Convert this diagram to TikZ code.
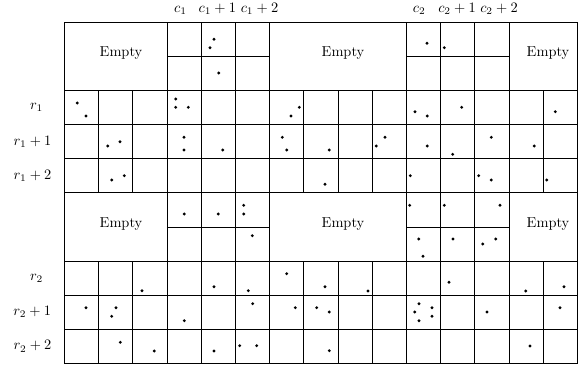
\documentclass[tikz,border=0pt]{standalone}
\begin{document}
\begin{tikzpicture}[x=0.6944pt,y=-0.6944pt,
  gridline/.style={line width=0.5pt,black},
  lab/.style={inner sep=0pt},
  emptylab/.style={inner sep=0pt,anchor=center},
  pt/.style={fill=black}]
\useasboundingbox (0,0) rectangle (587,369);
% outer frame
\draw[gridline] (64.3,22.3) rectangle (577.3,363.3);
% full horizontal lines
\foreach \r in {2,3,4,5,7,8,9}
  \draw[gridline] (64.3,{22.3+34.1*\r}) -- (577.3,{22.3+34.1*\r});
% partial horizontal lines inside the column groups
\foreach \r in {1,6}{
  \draw[gridline] (166.9,{22.3+34.1*\r}) -- (269.5,{22.3+34.1*\r});
  \draw[gridline] (406.3,{22.3+34.1*\r}) -- (508.9,{22.3+34.1*\r});
}
% vertical lines, full height in the column groups
\foreach \k in {3,4,5,6,10,11,12,13}
  \draw[gridline] ({64.3+34.2*\k},22.3) -- ({64.3+34.2*\k},363.3);
% vertical lines only in the full rows
\foreach \k in {1,2,7,8,9,14}{
  \draw[gridline] ({64.3+34.2*\k},90.5) -- ({64.3+34.2*\k},192.8);
  \draw[gridline] ({64.3+34.2*\k},261) -- ({64.3+34.2*\k},363.3);
}
% Empty labels
\node[emptylab] (e1) at (121,53.3) {Empty};
\node[emptylab] (e2) at (343,53.3) {Empty};
\node[emptylab] (e3) at (548,53.3) {Empty};
\node[emptylab] (e4) at (121,223.6) {Empty};
\node[emptylab] (e5) at (343,223.6) {Empty};
\node[emptylab] (e6) at (548,223.6) {Empty};
% column labels
\node[lab,anchor=base] (c1a) at (180.5,12) {$c_1$};
\node[lab,anchor=base] (c1b) at (217.3,12) {$c_1+1$};
\node[lab,anchor=base] (c1c) at (259.5,12) {$c_1+2$};
\node[lab,anchor=base] (c2a) at (419.2,12) {$c_2$};
\node[lab,anchor=base] (c2b) at (457,12) {$c_2+1$};
\node[lab,anchor=base] (c2c) at (499,12) {$c_2+2$};
% row labels
\node[lab] (r1a) at (36.7,107.6) {$r_1$};
\node[lab] (r1b) at (32.5,141.7) {$r_1+1$};
\node[lab] (r1c) at (32.5,175.8) {$r_1+2$};
\node[lab] (r2a) at (36.7,278.1) {$r_2$};
\node[lab] (r2b) at (32.2,312.2) {$r_2+1$};
\node[lab] (r2c) at (32.5,346.3) {$r_2+2$};
% points
\foreach \p in {
  (214,39.3),(210,47.7),(218.7,73),(427,43.3),(444.3,47.7),
  (77.3,103),(86,116),(175.7,99),(175.7,107.3),(188.3,107.3),(299.3,107.3),(291,116),(415,111.7),(427.3,116),(461.7,107.3),(555.3,111.7),
  (120,141.7),(107.7,146),(184,137.3),(184,150),(222.7,150),(282.3,137.3),(286.7,150),(329.3,150),(385,137.3),(376.3,146),(427.3,146),(452.7,154.3),(491.3,137.3),(534.3,146),
  (124.3,175.7),(111.7,180),(325,184.3),(410.3,175.7),(478.7,175.7),(491.3,180),(546.7,180),
  (184.3,214),(218.3,214),(243.7,205.3),(243.7,214),(252.3,235.7),(409.7,205.3),(444.3,205.3),(500,205.3),(418.7,239),(423,256.3),(453,239),(482.7,244),(495.7,239),
  (142,290.7),(214,286.7),(248.3,290.7),(286.7,273.7),(325,286.7),(368,291),(449,282.3),(525.7,291),(564,286.7),
  (86,307.7),(116,307.7),(111.7,316.3),(184.3,320.7),(252.7,303.7),(295.3,307.7),(316.7,307.7),(329.3,312),(419,303.7),(432,307.7),(414.7,312),(432,316.3),(419,320.7),(487,312),(560,307.7),
  (120.3,342.3),(154.3,351),(214,351),(239.7,345.7),(256.7,345.7),(329.3,350.7),(530,346)}
  \fill[pt] \p circle[radius=1.1pt];
\end{tikzpicture}
\end{document}
